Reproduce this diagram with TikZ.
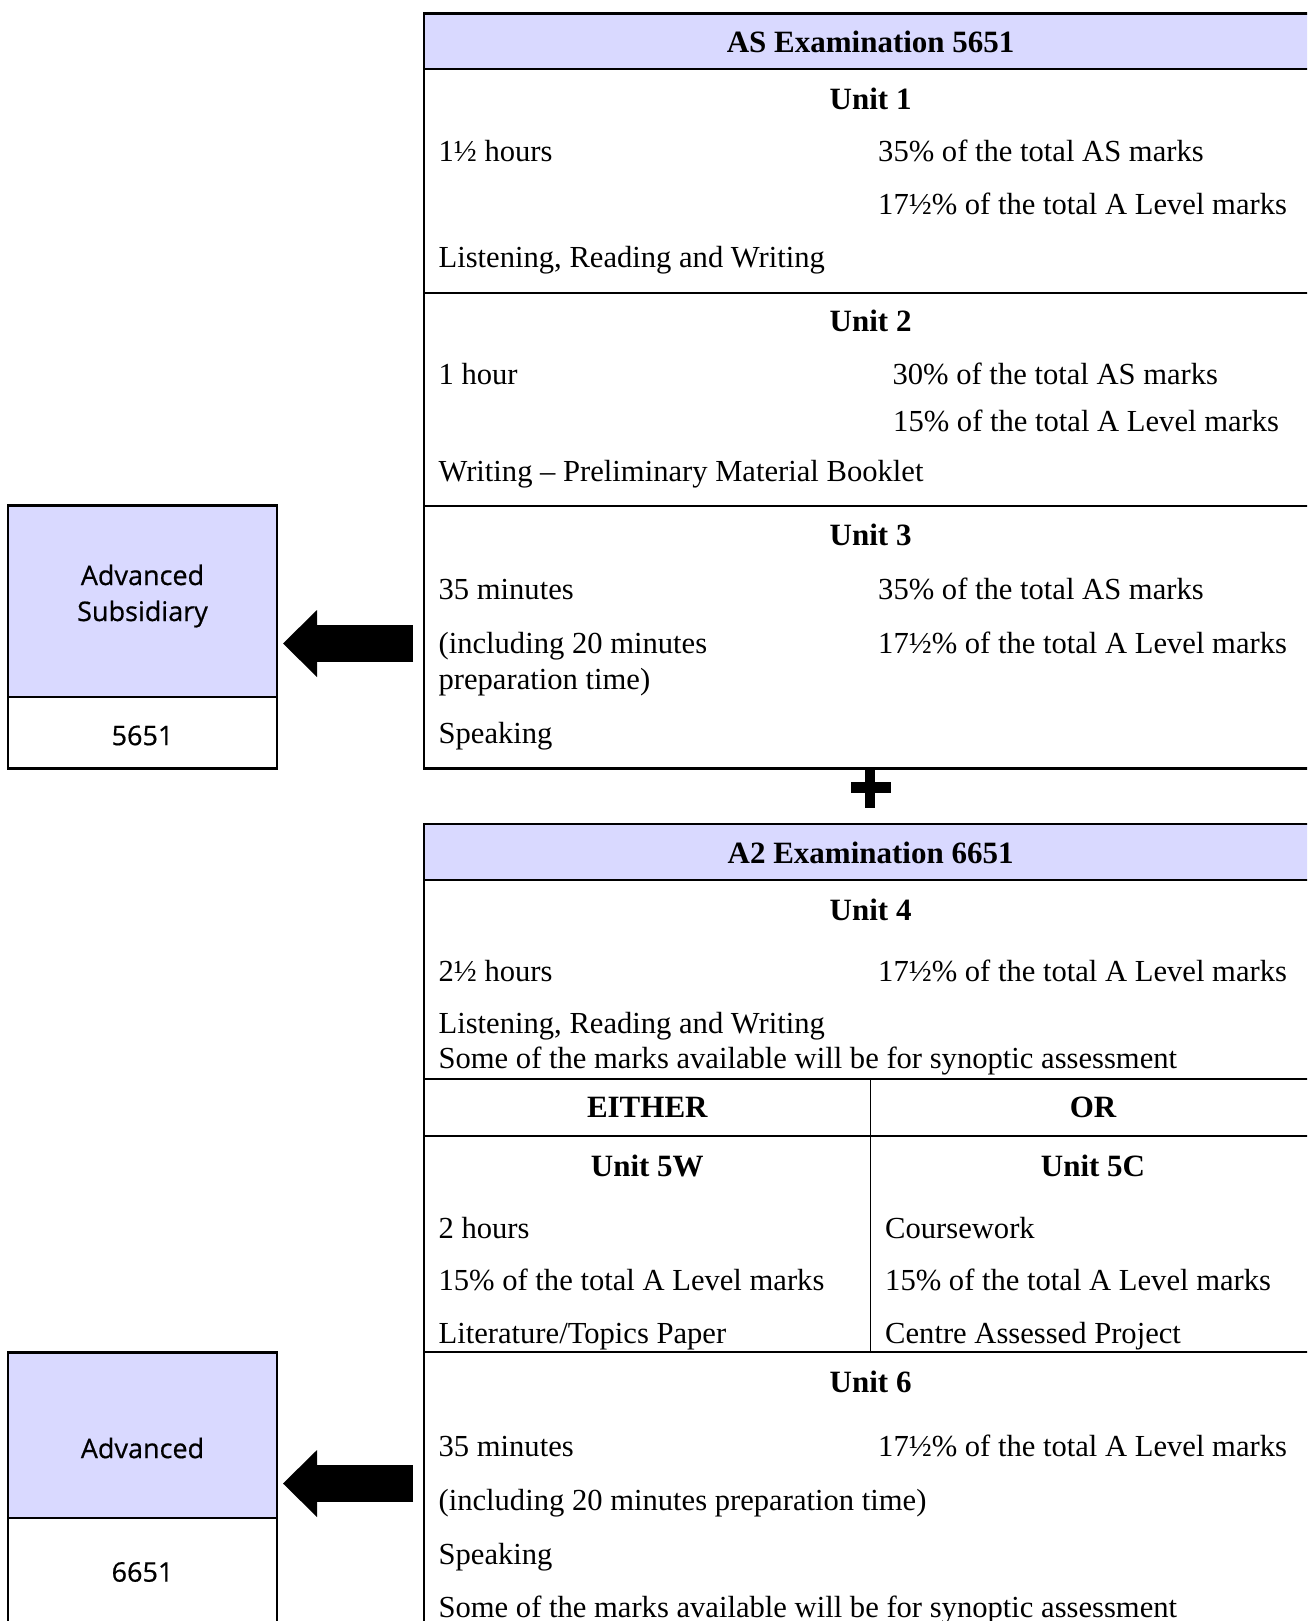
\documentclass[tikz,border=0pt]{standalone}
\usepackage{fontspec}
\setmainfont{Liberation Serif}
\newfontfamily\levelfont[FakeBold=0.6]{Open Sans}
\usetikzlibrary{calc,positioning,arrows.meta}
\definecolor{color_fill_header}{HTML}{D9D9FF}

\begin{document}
\begin{tikzpicture}[x=1pt,y=-1pt,
	every node/.style={inner sep=0pt,font=\fontsize{30.6}{37}\selectfont},
	body/.style={anchor=base west},
	title/.style={anchor=base,font=\fontsize{31}{37}\selectfont\bfseries},
	level/.style={align=center,font=\levelfont\fontsize{27}{36}\selectfont},
	frame/.style={draw,line width=2.6pt,outer sep=0pt,anchor=north west},
	levelbox/.style={frame,minimum width=269pt},
	rule/.style={line width=2pt},
	blockarrow/.style={line width=37pt,-{Triangle[length=34pt,width=67pt,line width=0pt]}}]
	\useasboundingbox (0,0) rectangle (1307,1621);
	\clip (0,0) rectangle (1307,1621);

	% Points
	\coordinate (ASTL) at (424,13.4);
	\coordinate (ATTL) at (424,824);
	\coordinate (ASarrow) at (413,643.5);
	\coordinate (ATarrow) at (413,1483.5);

	% Header backgrounds
	\fill[color_fill_header] (ASTL) rectangle (1317,69);
	\fill[color_fill_header] (ATTL) rectangle (1317,880);

	% Rows
	\draw[rule]
		(424,69) -- (1317,69)
		(424,292.6) -- (1317,292.6)
		(424,505.6) -- (1317,505.6)
		(424,880) -- (1317,880)
		(424,1078.5) -- (1317,1078.5)
		(424,1136.4) -- (1317,1136.4)
		(424,1351.5) -- (1317,1351.5)
		;
	\draw[line width=1.4pt] (870.6,1078.5) -- (870.6,1351.5);

	% Outer frames
	\node[frame,minimum width=893pt,minimum height=754.9pt] (asbox) at (ASTL) {};
	\node[frame,minimum width=893pt,minimum height=830pt] (atbox) at (ATTL) {};

	% Level boxes
	\node[levelbox,fill=color_fill_header,minimum height=191.4pt] (advsub) at (8,505.6) {};
	\node[levelbox,minimum height=71.3pt] (advsubcode) at (advsub.south west) {};
	\node[levelbox,fill=color_fill_header,minimum height=165.5pt] (adv) at (8,1352.5) {};
	\node[levelbox,minimum height=130pt] (advcode) at (adv.south west) {};
	\node[level] (advsubtext) at (142.5,596) {Advanced\\Subsidiary};
	\node[level] (advsubnum) at (142.5,735.5) {5651};
	\node[level] (advtext) at (142.5,1448) {Advanced};
	\node[level] (advnum) at (142.5,1572) {6651};

	% AS examination
	\node[title] (ashead) at (870.6,52.5) {AS Examination 5651};
	\node[title] (unitone) at (870.6,109.5) {Unit 1};
	\node[body] (unitonetime) at (438.4,162) {1½ hours};
	\node[body] (unitoneas) at (878,162) {35\% of the total AS marks};
	\node[body] (unitonea) at (878,215) {17½\% of the total A Level marks};
	\node[body] (unitoneskill) at (438.4,268) {Listening, Reading and Writing};
	\node[title] (unittwo) at (870.6,331.5) {Unit 2};
	\node[body] (unittwotime) at (438.4,384) {1 hour};
	\node[body] (unittwoas) at (892.4,384) {30\% of the total AS marks};
	\node[body] (unittwoa) at (893,431) {15\% of the total A Level marks};
	\node[body] (unittwoskill) at (438.4,481.5) {Writing – Preliminary Material Booklet};
	\node[title] (unitthree) at (870.6,545.5) {Unit 3};
	\node[body] (unitthreetime) at (438.4,599.5) {35 minutes};
	\node[body] (unitthreeas) at (878,599.5) {35\% of the total AS marks};
	\node[body] (unitthreeprep) at (438.4,653) {(including 20 minutes};
	\node[body] (unitthreea) at (878,653) {17½\% of the total A Level marks};
	\node[body] (unitthreeprepb) at (438.4,689) {preparation time)};
	\node[body] (unitthreeskill) at (438.4,743) {Speaking};

	% A2 examination
	\node[title] (athead) at (870.6,863) {A2 Examination 6651};
	\node[title] (unitfour) at (870.6,920) {Unit 4};
	\node[body] (unitfourtime) at (438.4,981) {2½ hours};
	\node[body] (unitfoura) at (878,981) {17½\% of the total A Level marks};
	\node[body] (unitfourskill) at (438.4,1033.5) {Listening, Reading and Writing};
	\node[body] (unitfoursyn) at (438.4,1068.5) {Some of the marks available will be for synoptic assessment};
	\node[title] (either) at (647.3,1117.5) {EITHER};
	\node[title] (or) at (1093,1117.5) {OR};
	\node[title] (unitfivew) at (647.3,1176.5) {Unit 5W};
	\node[title] (unitfivec) at (1093,1176.5) {Unit 5C};
	\node[body] (unitfivewtime) at (438.4,1238) {2 hours};
	\node[body] (unitfivectime) at (885,1238) {Coursework};
	\node[body] (unitfivewa) at (438.4,1290) {15\% of the total A Level marks};
	\node[body] (unitfiveca) at (885,1290) {15\% of the total A Level marks};
	\node[body] (unitfivewskill) at (438.4,1343) {Literature/Topics Paper};
	\node[body] (unitfivecskill) at (885,1343) {Centre Assessed Project};
	\node[title] (unitsix) at (870.6,1392.5) {Unit 6};
	\node[body] (unitsixtime) at (438.4,1456.5) {35 minutes};
	\node[body] (unitsixa) at (878,1456.5) {17½\% of the total A Level marks};
	\node[body] (unitsixprep) at (438.4,1510) {(including 20 minutes preparation time)};
	\node[body] (unitsixskill) at (438.4,1564) {Speaking};
	\node[body] (unitsixsyn) at (438.4,1617) {Some of the marks available will be for synoptic assessment};

	% Plus
	\fill (851,782) rectangle (891,793);
	\fill (865,767) rectangle (875,808);

	% Arrows
	\draw[blockarrow,shorten >=6pt] (ASarrow) -- (advsub.east |- ASarrow);
	\draw[blockarrow,shorten >=6pt] (ATarrow) -- (adv.east |- ATarrow);
\end{tikzpicture}
\end{document}
